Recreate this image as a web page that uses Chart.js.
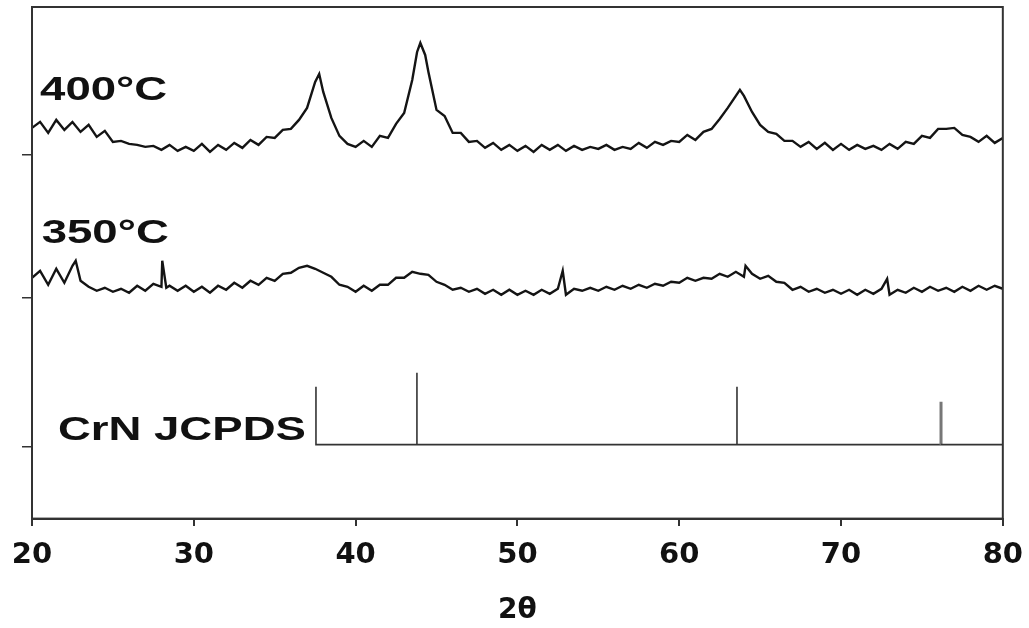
<!DOCTYPE html>
<html lang="en">
<head>
    <meta charset="utf-8" />
    <title>XRD patterns CrN</title>
    <style>
        body { margin: 0; background: #fff; }
        #chartBox { width: 1029px; height: 628px; }
    </style>
</head>
<body>
    <div id="chartBox">
        <canvas id="xrdChart" width="1029" height="628"></canvas>
    </div>
    <script src="https://cdn.jsdelivr.net/npm/chart.js"></script>
    <script>
        // 2theta positions (deg) and offset intensities (a.u.)
        var theta400 = [20, 20.5, 21, 21.5, 22, 22.5, 23, 23.5, 24, 24.5, 25, 25.5, 26, 26.5, 27, 27.5, 28, 28.5, 29, 29.5,
            30, 30.5, 31, 31.5, 32, 32.5, 33, 33.5, 34, 34.5, 35, 35.5, 36, 36.5, 37, 37.5, 37.75, 38, 38.5, 39, 39.5,
            40, 40.5, 41, 41.5, 42, 42.5, 43, 43.5, 43.8, 44, 44.3, 44.5, 45, 45.5, 46, 46.5, 47, 47.5, 48, 48.5, 49, 49.5,
            50, 50.5, 51, 51.5, 52, 52.5, 53, 53.5, 54, 54.5, 55, 55.5, 56, 56.5, 57, 57.5, 58, 58.5, 59, 59.5,
            60, 60.5, 61, 61.5, 62, 62.5, 63, 63.5, 63.75, 64, 64.5, 65, 65.5, 66, 66.5, 67, 67.5, 68, 68.5, 69, 69.5,
            70, 70.5, 71, 71.5, 72, 72.5, 73, 73.5, 74, 74.5, 75, 75.5, 76, 76.5, 77, 77.5, 78, 78.5, 79, 79.5, 80];
        var int400 = [391, 397, 386, 399, 389, 397, 387, 394, 382, 388, 377, 378, 375, 374, 372, 373, 369, 374, 368, 372,
            368, 375, 367, 374, 369, 376, 371, 379, 374, 382, 381, 389, 390, 399, 411, 437, 445, 427, 401, 383, 375,
            372, 378, 372, 383, 381, 395, 406, 439, 467, 476, 464, 447, 409, 403, 386, 386, 377, 378, 371, 376, 369, 374,
            368, 373, 367, 374, 369, 374, 368, 373, 369, 372, 370, 374, 369, 372, 370, 376, 371, 377, 374, 378,
            377, 384, 379, 387, 390, 400, 411, 423, 429, 423, 407, 394, 387, 385, 378, 378, 372, 377, 370, 376, 369,
            375, 369, 374, 370, 373, 369, 375, 370, 377, 375, 383, 381, 390, 390, 391, 384, 382, 377, 383, 376, 381];

        var theta350 = [20, 20.5, 21, 21.5, 22, 22.5, 22.7, 23, 23.5, 24, 24.5, 25, 25.5, 26, 26.5, 27, 27.5, 28, 28.05, 28.3, 28.5, 29, 29.5,
            30, 30.5, 31, 31.5, 32, 32.5, 33, 33.5, 34, 34.5, 35, 35.5, 36, 36.5, 37, 37.5, 38, 38.5, 39, 39.5,
            40, 40.5, 41, 41.5, 42, 42.5, 43, 43.5, 44, 44.5, 45, 45.5, 46, 46.5, 47, 47.5, 48, 48.5, 49, 49.5,
            50, 50.5, 51, 51.5, 52, 52.5, 52.8, 53, 53.5, 54, 54.5, 55, 55.5, 56, 56.5, 57, 57.5, 58, 58.5, 59, 59.5,
            60, 60.5, 61, 61.5, 62, 62.5, 63, 63.5, 64, 64.1, 64.5, 65, 65.5, 66, 66.5, 67, 67.5, 68, 68.5, 69, 69.5,
            70, 70.5, 71, 71.5, 72, 72.5, 72.85, 73, 73.5, 74, 74.5, 75, 75.5, 76, 76.5, 77, 77.5, 78, 78.5, 79, 79.5, 80];
        var int350 = [241, 248, 234, 250, 236, 253, 258, 238, 232, 228, 231, 227, 230, 226, 233, 228, 235, 232, 258, 231, 233, 228, 233,
            227, 232, 226, 233, 229, 236, 231, 238, 234, 241, 238, 245, 246, 251, 253, 250, 246, 242, 234, 232,
            227, 233, 228, 234, 234, 241, 241, 247, 245, 244, 237, 234, 229, 231, 227, 230, 225, 229, 224, 229,
            224, 228, 224, 229, 225, 230, 248, 224, 230, 228, 231, 228, 232, 229, 233, 230, 234, 231, 235, 233, 237,
            236, 241, 238, 241, 240, 245, 242, 247, 242, 253, 245, 240, 243, 237, 236, 229, 232, 227, 230, 226, 229,
            225, 229, 224, 229, 225, 230, 240, 224, 229, 226, 231, 227, 232, 228, 231, 227, 232, 228, 233, 229, 233, 230];

        // CrN reference card: line positions and stick heights above its baseline
        var jcpdsTheta = [37.55, 43.79, 63.57, 76.18];
        var jcpdsHeight = [58, 72, 58, 43];
        var jcpdsBase = 74;

        var xTicks = [20, 30, 40, 50, 60, 70, 80];
        var yTicks = [72, 221, 364];   // zero level of each pattern

        var labelTexts = ['400°C', '350°C', 'CrN JCPDS'];
        var labelTheta = [20.5, 20.6, 21.6];
        var labelLevel = [419, 276, 79];

        function toPoints(xs, ys) {
            return xs.map(function (x, i) { return { x: x, y: ys[i] }; });
        }

        // stick pattern: baseline with a vertical line at each reference peak
        var jcpdsPoints = [];
        jcpdsTheta.forEach(function (t, i) {
            jcpdsPoints.push({ x: t, y: jcpdsBase });
            jcpdsPoints.push({ x: t, y: jcpdsBase + jcpdsHeight[i] });
            jcpdsPoints.push({ x: t, y: jcpdsBase });
        });
        jcpdsPoints.push({ x: 80, y: jcpdsBase });

        // the last stick is printed lighter and wider in the figure
        function isLastStick(c) {
            return c.p0.parsed.x === jcpdsTheta[jcpdsTheta.length - 1] && c.p1.parsed.x === c.p0.parsed.x;
        }

        var framePlugin = {
            id: 'frame',
            afterDatasetsDraw: function (chart) {
                var a = chart.chartArea, ctx = chart.ctx;
                ctx.save();
                ctx.strokeStyle = '#333';
                ctx.lineWidth = 2;
                ctx.strokeRect(a.left, a.top, a.right - a.left, a.bottom - a.top);
                ctx.restore();
            }
        };

        var labelPlugin = {
            id: 'patternLabels',
            afterDatasetsDraw: function (chart) {
                var ctx = chart.ctx;
                var xs = chart.scales.x, ys = chart.scales.y;
                ctx.save();
                ctx.fillStyle = '#111';
                ctx.font = 'bold 33px "Liberation Sans", Arial, sans-serif';
                ctx.textBaseline = 'alphabetic';
                labelTexts.forEach(function (t, i) {
                    ctx.save();
                    ctx.translate(xs.getPixelForValue(labelTheta[i]), ys.getPixelForValue(labelLevel[i]));
                    ctx.scale(1.38, 1);
                    ctx.fillText(t, 0, 0);
                    ctx.restore();
                });
                ctx.restore();
            }
        };

        var ctx = document.getElementById('xrdChart').getContext('2d');
        var xrdChart = new Chart(ctx, {
            type: 'scatter',
            data: {
                datasets: [
                    { label: '400°C', data: toPoints(theta400, int400) },
                    { label: '350°C', data: toPoints(theta350, int350) },
                    {
                        label: 'CrN JCPDS',
                        data: jcpdsPoints,
                        borderWidth: 1.6,
                        borderColor: '#333',
                        segment: {
                            borderColor: function (c) { return isLastStick(c) ? '#777' : undefined; },
                            borderWidth: function (c) { return isLastStick(c) ? 3 : undefined; }
                        }
                    }
                ]
            },
            options: {
                responsive: false,
                animation: false,
                showLine: true,
                layout: { padding: { left: 22, right: 26, top: 7, bottom: 0 } },
                elements: {
                    point: { radius: 0 },
                    line: { borderColor: '#141414', borderWidth: 2.4, tension: 0, borderJoinStyle: 'miter' }
                },
                plugins: {
                    legend: { display: false },
                    tooltip: { enabled: false }
                },
                scales: {
                    x: {
                        type: 'linear',
                        min: 20,
                        max: 80,
                        afterBuildTicks: function (s) { s.ticks = xTicks.map(function (v) { return { value: v }; }); },
                        // long tick slot, but only the first 6px of each tick mark is drawn
                        grid: { drawOnChartArea: false, drawTicks: true, tickLength: 13, tickBorderDash: [6, 40], color: '#333', lineWidth: 2 },
                        border: { color: '#333', width: 2 },
                        ticks: {
                            color: '#111',
                            padding: 6,
                            font: { family: 'DejaVu Sans', weight: 'bold', size: 29 }
                        },
                        title: {
                            display: true,
                            text: '2θ',
                            color: '#111',
                            padding: { top: 16, bottom: 0 },
                            font: { family: 'DejaVu Sans', weight: 'bold', size: 28 }
                        }
                    },
                    y: {
                        type: 'linear',
                        min: 0,
                        max: 512,
                        afterBuildTicks: function (s) { s.ticks = yTicks.map(function (v) { return { value: v }; }); },
                        grid: { drawOnChartArea: false, drawTicks: true, tickLength: 10, color: '#333', lineWidth: 1.5 },
                        border: { color: '#333', width: 2 },
                        ticks: { display: false }
                    }
                }
            },
            plugins: [framePlugin, labelPlugin]
        });
    </script>
</body>
</html>
